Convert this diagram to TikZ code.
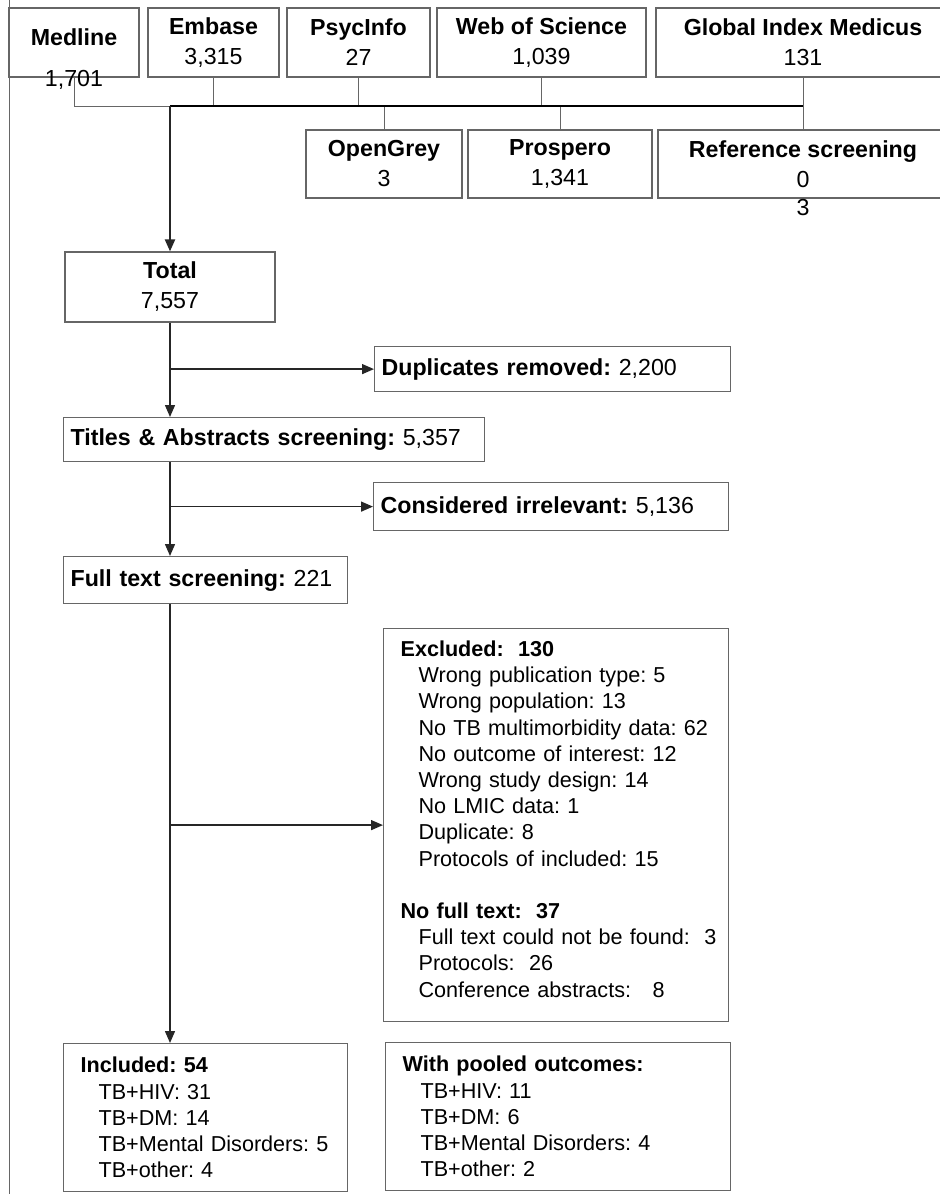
\documentclass[tikz,border=0pt]{standalone}
\usepackage{fontspec}
\setmainfont{Liberation Sans}
\usepackage{tikz}
\usetikzlibrary{arrows.meta,positioning,calc}

\newcommand{\bigfont}{\fontsize{11.6}{15}\selectfont\frenchspacing}
\newcommand{\smallfont}{\fontsize{10.8}{13.1}\selectfont\frenchspacing}
\newcommand{\itm}[1]{\mbox{\hspace*{9pt}#1}}

\begin{document}
\begin{tikzpicture}[
    x=0.5pt, y=-0.5pt,
    srcbox/.style={rectangle, draw=black!60, line width=0.6pt, inner sep=0pt, align=center, font=\bigfont, minimum height=34.5pt},
    flowbox/.style={rectangle, draw=black!60, line width=0.6pt, anchor=north west, inner xsep=3.5pt, inner ysep=0pt, align=left, font=\bigfont},
    listbox/.style={rectangle, draw=black!60, line width=0.6pt, anchor=north west, inner xsep=8.5pt, inner ysep=0pt, align=left, font=\smallfont},
    conn/.style={draw=black!60, line width=0.5pt},
    hubline/.style={black, line width=1.1pt},
    arrow/.style={-{Triangle[length=6pt,width=5pt]}, black!85, line width=0.7pt}
]
    \useasboundingbox (0,0) rectangle (940,1194);
    \clip (0,0) rectangle (940,1194);

    % databases
    \node[srcbox, minimum width=65pt] (medline) at (74,42.5) {};
    \node[font=\bigfont\bfseries] (medlinelbl) at (74,37.5) {Medline};
    \node[font=\bigfont] (medlinenum) at (74,79.5) {1,701};
    \node[srcbox, minimum width=65.5pt, right=3.9pt of medline] (embase) {\textbf{Embase}\\3,315};
    \node[srcbox, minimum width=71.5pt, right=3.4pt of embase] (psycinfo) {\textbf{PsycInfo}\\27};
    \node[srcbox, minimum width=104.5pt, right=2.9pt of psycinfo] (wos) {\textbf{Web of Science}\\1,039};
    \node[srcbox, minimum width=147pt, right=4.4pt of wos] (gim) {\textbf{Global Index Medicus}\\131};

    \node[srcbox, minimum width=78pt, minimum height=34pt] (opengrey) at (384,164) {\textbf{OpenGrey}\\3};
    \node[srcbox, minimum width=92pt, minimum height=34pt, right=2.4pt of opengrey] (prospero) {\textbf{Prospero}\\1,341};
    \node[srcbox, minimum width=145pt, minimum height=34pt, right=2.4pt of prospero] (refscr) {\textbf{Reference screening}\\0};
    \node[font=\bigfont] (refscrnum) at (803,208) {3};

    % screening steps
    \node[srcbox, minimum width=105pt, minimum height=35pt] (total) at (170,287) {\textbf{Total}\\7,557};
    \node[flowbox, text width=171pt, minimum height=22.5pt] (dupl) at (374,346) {\textbf{Duplicates removed:} 2,200};
    \node[flowbox, text width=203.5pt, minimum height=22pt] (titles) at (63,417) {\textbf{Titles \& Abstracts screening:} 5,357};
    \node[flowbox, text width=170.5pt, minimum height=24pt] (consid) at (373,482) {\textbf{Considered irrelevant:} 5,136};
    \node[flowbox, text width=135pt, minimum height=23.5pt] (full) at (63,556) {\textbf{Full text screening:} 221};

    \node[listbox, text width=155.5pt, minimum height=196.5pt] (excl) at (383,628) {%
        \textbf{Excluded:\ \ 130}\\
        \itm{Wrong publication type: 5}\\
        \itm{Wrong population: 13}\\
        \itm{No TB multimorbidity data: 62}\\
        \itm{No outcome of interest: 12}\\
        \itm{Wrong study design: 14}\\
        \itm{No LMIC data: 1}\\
        \itm{Duplicate: 8}\\
        \itm{Protocols of included: 15}\\[13.1pt]
        \textbf{No full text:\ \ 37}\\
        \itm{Full text could not be found:\ \ 3}\\
        \itm{Protocols:\ \ 26}\\
        \itm{Conference abstracts:\ \ \ 8}\\[-7pt]\mbox{}};

    \node[listbox, text width=125pt, minimum height=74pt] (incl) at (63,1043) {%
        \textbf{Included: 54}\\
        \itm{TB+HIV: 31}\\
        \itm{TB+DM: 14}\\
        \itm{TB+Mental Disorders: 5}\\
        \itm{TB+other: 4}};
    \node[listbox, text width=155.5pt, minimum height=74pt] (pooled) at (385,1042) {%
        \textbf{With pooled outcomes:}\\
        \itm{TB+HIV: 11}\\
        \itm{TB+DM: 6}\\
        \itm{TB+Mental Disorders: 4}\\
        \itm{TB+other: 2}};

    % frame line on the left
    \draw[conn] (9,0) -- (9,1194);

    % joining the sources
    \coordinate (hub) at (170,106);
    \coordinate (hubend) at (803,106);
    \draw[conn] (medline.south) |- (hub);
    \draw[conn] (embase.south) -- (embase.south |- hub);
    \draw[conn] (psycinfo.south) -- (psycinfo.south |- hub);
    \draw[conn] (wos.south) -- (wos.south |- hub);
    \draw[conn] (gim.south) -- (refscr.north);
    \draw[conn] (opengrey.north) -- (opengrey.north |- hub);
    \draw[conn] (prospero.north) -- (prospero.north |- hub);
    \draw[hubline] (hub) -- (hubend);
    \draw[arrow, line width=1.1pt] (hub) -- (hub |- total.north);

    % flow
    \draw[arrow] (total.south) -- (total.south |- titles.north);
    \draw[arrow] (total.south |- dupl.west) -- (dupl.west);
    \draw[arrow] (titles.south -| total.south) -- (full.north -| total.south);
    \draw[arrow] (total.south |- consid.west) -- (consid.west);
    \draw[arrow] (full.south -| total.south) -- (incl.north -| total.south);
    \draw[arrow] (total.south |- excl.west) -- (excl.west);
\end{tikzpicture}
\end{document}
